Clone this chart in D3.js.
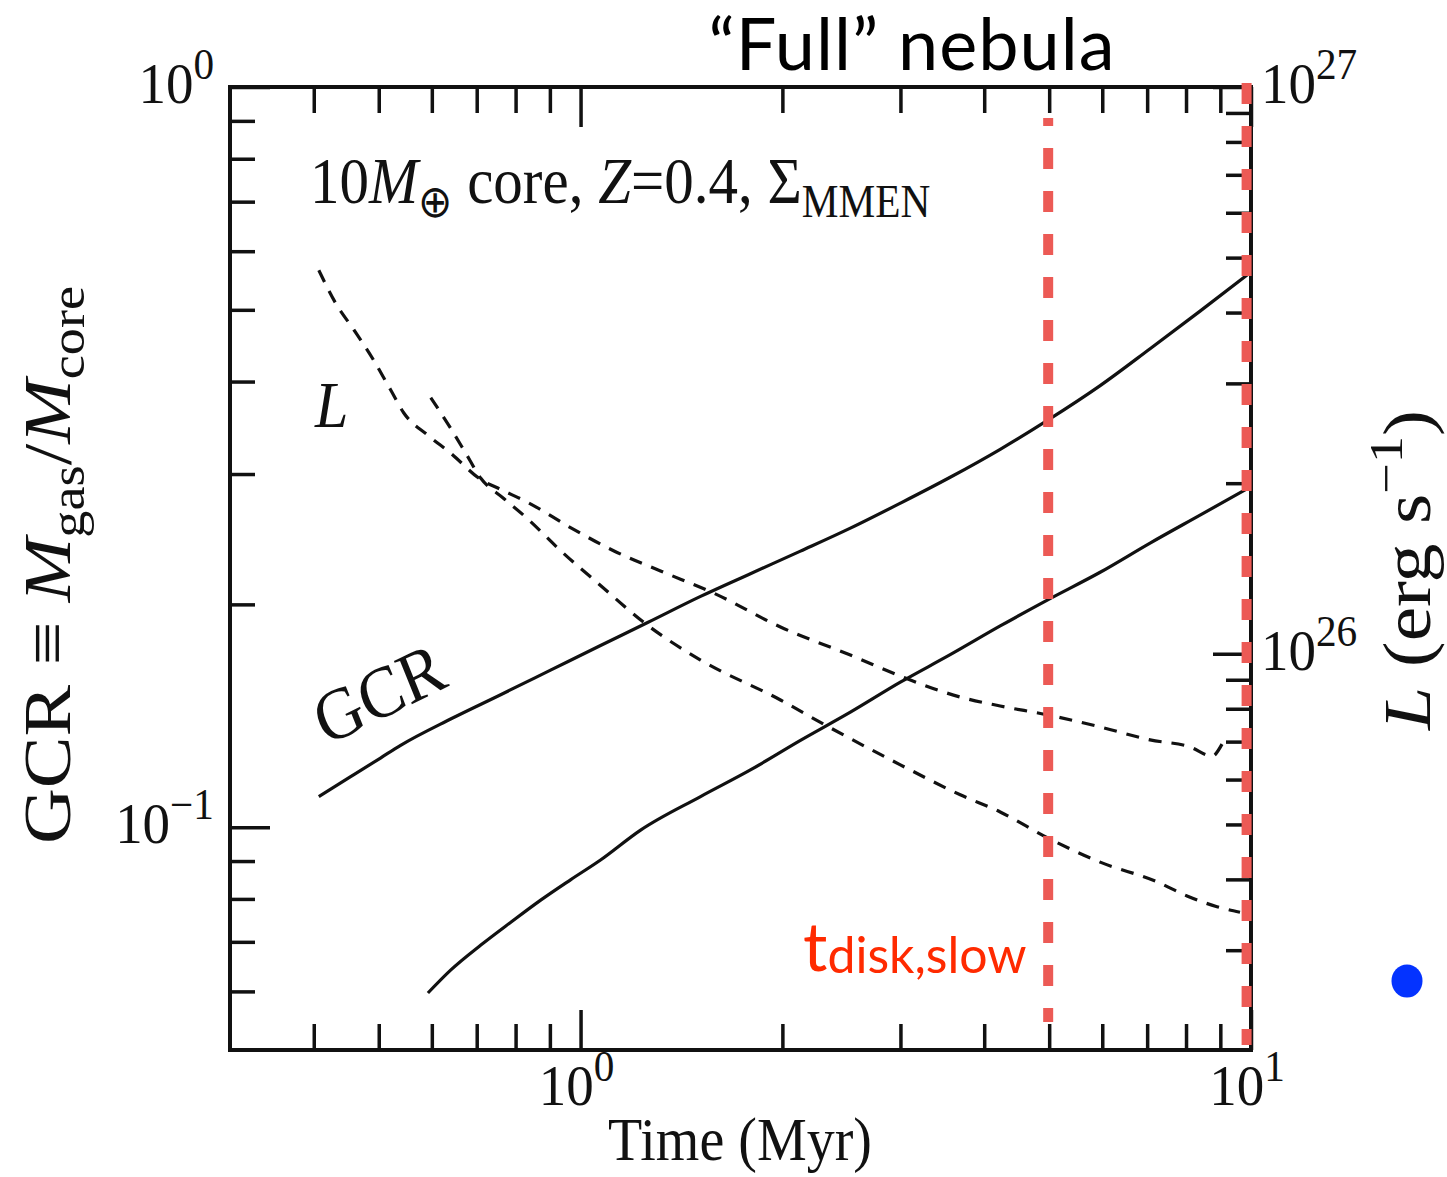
<!DOCTYPE html>
<html>
<head>
<meta charset="utf-8">
<style>
    body { margin: 0; background: #fff; }
    svg { display: block; }
    .serif { font-family: "Liberation Serif", "Times New Roman", serif; fill: #111; }
    .tick-line { stroke: #111; stroke-width: 3.5; }
</style>
</head>
<body>
<svg id="chart" width="1447" height="1177"></svg>
<script src="https://cdn.jsdelivr.net/npm/d3@7"></script>
<script>

// time grid (Myr) and gas-to-core ratio, upper solid curve
let gcrTopTime = [0.407, 0.454, 0.503, 0.539, 0.640, 0.760, 0.902, 1.071, 1.259, 1.510, 1.792, 2.128, 2.526, 2.999, 3.559, 4.226, 4.983, 5.957, 7.071, 8.395, 9.966]
let gcrTopValue = [0.110, 0.117, 0.124, 0.129, 0.140, 0.151, 0.163, 0.176, 0.189, 0.205, 0.220, 0.236, 0.2535, 0.274, 0.297, 0.324, 0.355, 0.395, 0.443, 0.498, 0.561]

// lower solid curve
let gcrLowTime = [0.592, 0.640, 0.710, 0.787, 0.872, 0.966, 1.071, 1.229, 1.510, 1.792, 2.128, 2.526, 2.999, 3.559, 4.226, 4.983, 5.957, 7.071, 8.395, 9.966]
let gcrLowValue = [0.0597, 0.0641, 0.0693, 0.0744, 0.0797, 0.0849, 0.0903, 0.0991, 0.110, 0.1195, 0.131, 0.143, 0.157, 0.171, 0.187, 0.203, 0.221, 0.242, 0.264, 0.288]

// luminosity (units of 1e26 erg/s), dashed curves
let lumTopTime = [0.407, 0.431, 0.459, 0.491, 0.521, 0.545, 0.592, 0.640, 0.710, 0.760, 0.834, 0.966, 1.120, 1.316, 1.579, 1.987, 2.526, 3.051, 3.684, 4.226, 4.983, 5.957, 7.071, 8.112, 8.748, 9.053]
let lumTopValue = [4.75, 4.16, 3.73, 3.30, 2.92, 2.66, 2.43, 2.26, 2.03, 1.95, 1.85, 1.67, 1.52, 1.40, 1.28, 1.115, 0.995, 0.906, 0.839, 0.809, 0.780, 0.743, 0.705, 0.685, 0.660, 0.693]

let lumLowTime = [0.598, 0.640, 0.674, 0.710, 0.768, 0.834, 0.934, 1.071, 1.250, 1.510, 1.987, 2.302, 2.999, 3.684, 4.226, 4.983, 5.957, 7.243, 8.028, 8.898, 9.630]
let lumLowValue = [2.83, 2.50, 2.26, 2.04, 1.88, 1.73, 1.52, 1.32, 1.13, 0.975, 0.829, 0.752, 0.637, 0.564, 0.526, 0.473, 0.429, 0.396, 0.374, 0.358, 0.350]

// disk dispersal times marked in red
let diskTimes = [5, 9.85]

// ticks
let timeMinor = [0.4, 0.5, 0.6, 0.7, 0.8, 0.9, 2, 3, 4, 5, 6, 7, 8, 9]
let timeMajor = [1, 10]
let gcrMinor = [0.06, 0.07, 0.08, 0.09, 0.2, 0.3, 0.4, 0.5, 0.6, 0.7, 0.8, 0.9]
let gcrMajor = [0.1, 1]
let lumMinor = [3e25, 4e25, 5e25, 6e25, 7e25, 8e25, 9e25, 2e26, 3e26, 4e26, 5e26, 6e26, 7e26, 8e26, 9e26]
let lumMajor = [1e26, 1e27]
let timeLabels = [[1, "0"], [10, "1"]]
let gcrLabels = [[1, "0"], [0.1, "\u22121"]]
let lumLabels = [[1e27, "27"], [1e26, "26"]]

let width = 1447
let height = 1177
let margin = {top: 87, right: 196, bottom: 127, left: 230}

let svg = d3.select("#chart")

let x = d3.scaleLog()
    .domain([0.3, 10])
    .range([margin.left, width - margin.right])

let yGcr = d3.scaleLog()
    .domain([0.05, 1])
    .range([height - margin.bottom, margin.top])

let yLum = d3.scaleLog()
    .domain([2e25, 1e27])
    .range([height - margin.bottom, margin.top])

function tickAxis(axis, transform, size, values) {
    let g = svg.append("g")
        .attr("transform", transform)
        .call(axis.tickValues(values).tickSize(size).tickFormat(""))
    g.select(".domain").remove()
    g.selectAll("line").attr("class", "tick-line")
}

let plotBottom = height - margin.bottom
let plotRight = width - margin.right

// ticks, all pointing inward
tickAxis(d3.axisBottom(x), `translate(0,${plotBottom})`, -26, timeMinor)
tickAxis(d3.axisBottom(x), `translate(0,${plotBottom})`, -40, timeMajor)
tickAxis(d3.axisTop(x), `translate(0,${margin.top})`, -26, timeMinor)
tickAxis(d3.axisTop(x), `translate(0,${margin.top})`, -40, timeMajor)
tickAxis(d3.axisLeft(yGcr), `translate(${margin.left},0)`, -25, gcrMinor)
tickAxis(d3.axisLeft(yGcr), `translate(${margin.left},0)`, -40, gcrMajor)
tickAxis(d3.axisRight(yLum), `translate(${plotRight},0)`, -25, lumMinor)
tickAxis(d3.axisRight(yLum), `translate(${plotRight},0)`, -38, lumMajor)

// frame
svg.append("rect")
    .attr("x", margin.left)
    .attr("y", margin.top)
    .attr("width", plotRight - margin.left)
    .attr("height", plotBottom - margin.top)
    .attr("fill", "none")
    .attr("stroke", "#111")
    .attr("stroke-width", 4)

// curves
let gcrLine = d3.line()
    .x(d => x(d[0]))
    .y(d => yGcr(d[1]))
    .curve(d3.curveMonotoneX)

let lumLine = d3.line()
    .x(d => x(d[0]))
    .y(d => yLum(d[1] * 1e26))
    .curve(d3.curveMonotoneX)

let solid = [d3.zip(gcrTopTime, gcrTopValue), d3.zip(gcrLowTime, gcrLowValue)]
let dashed = [d3.zip(lumTopTime, lumTopValue), d3.zip(lumLowTime, lumLowValue)]

svg.append("g")
    .selectAll("path")
    .data(solid)
    .join("path")
    .attr("d", gcrLine)
    .attr("fill", "none")
    .attr("stroke", "#111")
    .attr("stroke-width", 3.2)

svg.append("g")
    .selectAll("path")
    .data(dashed)
    .join("path")
    .attr("d", lumLine)
    .attr("fill", "none")
    .attr("stroke", "#111")
    .attr("stroke-width", 3.2)
    .attr("stroke-dasharray", "13,10")

// red dashed markers (overlay)
svg.append("g")
    .selectAll("line")
    .data(diskTimes)
    .join("line")
    .attr("x1", (d, i) => x(d) + (i == 0 ? -1 : 0))
    .attr("x2", (d, i) => x(d) + (i == 0 ? -1 : 0))
    .attr("y1", (d, i) => i == 0 ? margin.top + 31 : margin.top - 4)
    .attr("y2", (d, i) => i == 0 ? plotBottom - 28 : plotBottom - 5)
    .attr("stroke", "#ec5a55")
    .attr("stroke-width", 10)
    .attr("stroke-dasharray", "21,22")
    .attr("stroke-dashoffset", (d, i) => i == 0 ? 13 : 0)

// text helper: stretched vertically like the source figure
function label(px, py, rot, sy) {
    return svg.append("text")
        .attr("class", "serif")
        .attr("transform", `translate(${px},${py}) scale(1,${sy})` + (rot ? ` rotate(${rot})` : ""))
}

function power(t, base, exp) {
    t.append("tspan").text(base)
    t.append("tspan").attr("font-size", "0.75em").attr("dy", "-0.55em").text(exp)
}

// tick labels
timeLabels.forEach(d => {
    let t = label(x(d[0]) - 4, plotBottom + 55, 0, 1.05).attr("font-size", 55).attr("text-anchor", "middle")
    power(t, "10", d[1])
})
gcrLabels.forEach(d => {
    let t = label(margin.left - 16, yGcr(d[0]) + 16, 0, 1.05).attr("font-size", 55).attr("text-anchor", "end")
    power(t, "10", d[1])
})
lumLabels.forEach(d => {
    let t = label(plotRight + 10, yLum(d[0]) + 16, 0, 1.05).attr("font-size", 55)
    power(t, "10", d[1])
})

// axis titles
label(740, 1160, 0, 1.1).attr("font-size", 56).attr("text-anchor", "middle").text("Time (Myr)")

let yt = label(70, 565, -90, 1.14).attr("font-size", 68).attr("text-anchor", "middle")
yt.append("tspan").text("GCR \u2261 ")
yt.append("tspan").attr("font-style", "italic").text("M")
yt.append("tspan").attr("font-size", "0.7em").attr("dy", "0.3em").text("gas")
yt.append("tspan").attr("dy", "-0.21em").text("/")
yt.append("tspan").attr("font-style", "italic").text("M")
yt.append("tspan").attr("font-size", "0.7em").attr("dy", "0.3em").text("core")

let rt = label(1430, 570, -90, 1.16).attr("font-size", 67).attr("text-anchor", "middle")
rt.append("tspan").attr("font-style", "italic").text("L")
rt.append("tspan").text(" (erg s")
rt.append("tspan").attr("font-size", "0.7em").attr("dy", "-0.6em").text("\u22121")
rt.append("tspan").attr("dy", "0.42em").text(")")

// annotations inside the frame
let note = label(310, 203, 0, 1.1).attr("font-size", 59)
note.append("tspan").text("10")
note.append("tspan").attr("font-style", "italic").text("M")
note.append("tspan").attr("font-size", "0.7em").attr("dy", "0.3em").text("\u2295")
note.append("tspan").attr("dy", "-0.21em").text(" core, ")
note.append("tspan").attr("font-style", "italic").text("Z")
note.append("tspan").text("=0.4, \u03a3")
note.append("tspan").attr("font-size", "0.7em").attr("dy", "0.3em").text("MMEN")

label(315, 427, 0, 1.1).attr("font-size", 60).attr("font-style", "italic").text("L")
label(388, 716, -24, 1.1).attr("font-size", 66).attr("text-anchor", "middle").text("GCR")

// slide overlays
svg.append("text")
    .attr("x", 912)
    .attr("y", 70)
    .attr("text-anchor", "middle")
    .attr("font-family", "Lato, sans-serif")
    .attr("font-size", 72)
    .attr("letter-spacing", 1)
    .attr("fill", "#000")
    .text("\u201cFull\u201d nebula")

let td = svg.append("text")
    .attr("x", 803)
    .attr("y", 971)
    .attr("font-family", "Lato, sans-serif")
    .attr("fill", "#ff2a00")
    .attr("font-size", 68)
td.append("tspan").text("t")
td.append("tspan").attr("font-size", 50).attr("dy", 2).text("disk,slow")

svg.append("ellipse")
    .attr("cx", 1407)
    .attr("cy", 981)
    .attr("rx", 15.5)
    .attr("ry", 16.5)
    .attr("fill", "#0433ff")

</script>
</body>
</html>
